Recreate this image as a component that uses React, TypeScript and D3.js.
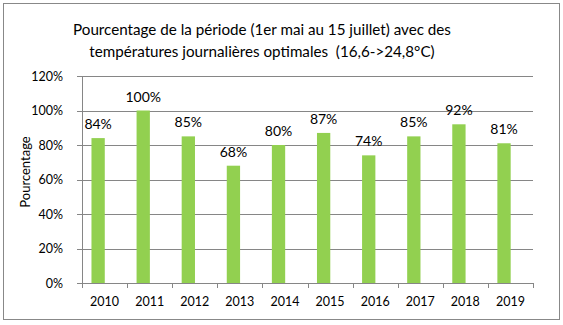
import React from "react";
import * as d3 from "d3";

const years = ["2010", "2011", "2012", "2013", "2014", "2015", "2016", "2017", "2018", "2019"];
const values = [84, 100, 85, 68, 80, 87, 74, 85, 92, 81];
const labels = ["84%", "100%", "85%", "68%", "80%", "87%", "74%", "85%", "92%", "81%"];
const yTicks = [0, 20, 40, 60, 80, 100, 120];
const titleLines = [
  "Pourcentage de la période (1er mai au 15 juillet) avec des",
  "températures journalières optimales\u00a0 (16,6->24,8°C)",
];

const W = 563, H = 325;
const left = 82, right = 533, top = 76, bottom = 283;
const font = "Lato, 'Open Sans', sans-serif";

export default function App() {
  const x = d3.scaleBand<string>().domain(years).range([left, right]).paddingInner(0).paddingOuter(0);
  const y = d3.scaleLinear().domain([0, 120]).range([bottom, top]);
  const bw = x.bandwidth();
  const barW = bw * 0.295;
  const barOff = bw * 0.21;
  return (
    <svg width={W} height={H} style={{ position: "absolute", left: 0, top: 0, background: "#fff" }}>
      <rect x={0} y={0} width={W} height={H} fill="#fff" />
      <rect x={3.5} y={3.5} width={556} height={316} fill="none" stroke="#888" strokeWidth={1} />
      {titleLines.map((t, i) => (
        <text key={i} x={262} y={35 + i * 22} textAnchor="middle" fontFamily={font} fontSize={15.2} fill="#000">
          {t}
        </text>
      ))}
      {yTicks.map((t) => (
        <g key={t}>
          {t > 0 && (
            <line x1={left} x2={right} y1={Math.round(y(t)) + 0.5} y2={Math.round(y(t)) + 0.5} stroke="#868686" />
          )}
          <line x1={left - 5} x2={left} y1={Math.round(y(t)) + 0.5} y2={Math.round(y(t)) + 0.5} stroke="#868686" />
          <text x={left - 19} y={y(t) + 4.5} textAnchor="end" fontFamily={font} fontSize={12.5} fill="#000">
            {t}%
          </text>
        </g>
      ))}
      <line x1={left + 0.5} x2={left + 0.5} y1={top} y2={bottom} stroke="#868686" />
      {years.map((yr, i) => (
        <rect
          key={yr}
          x={(x(yr) as number) + barOff}
          y={y(values[i])}
          width={barW}
          height={bottom - y(values[i])}
          fill="#92D050"
        />
      ))}
      <line x1={left} x2={right} y1={Math.round(bottom) + 0.5} y2={Math.round(bottom) + 0.5} stroke="#868686" />
      {[...years.map((yr) => x(yr) as number), right].map((px, i) => (
        <line key={i} x1={Math.round(px) + 0.5} x2={Math.round(px) + 0.5} y1={bottom} y2={bottom + 5} stroke="#868686" />
      ))}
      {years.map((yr) => (
        <text key={yr} x={(x(yr) as number) + bw / 2} y={306} textAnchor="middle" fontFamily={font} fontSize={12.5} fill="#000">
          {yr}
        </text>
      ))}
      {years.map((yr, i) => (
        <text
          key={yr}
          x={(x(yr) as number) + barOff + barW / 2}
          y={y(values[i]) - 9}
          textAnchor="middle"
          fontFamily={font}
          fontSize={14}
          fill="#000"
        >
          {labels[i]}
        </text>
      ))}
      <text
        transform={`translate(30,172) rotate(-90)`}
        textAnchor="middle"
        fontFamily={font}
        fontSize={13}
        fill="#000"
      >
        Pourcentage
      </text>
    </svg>
  );
}
